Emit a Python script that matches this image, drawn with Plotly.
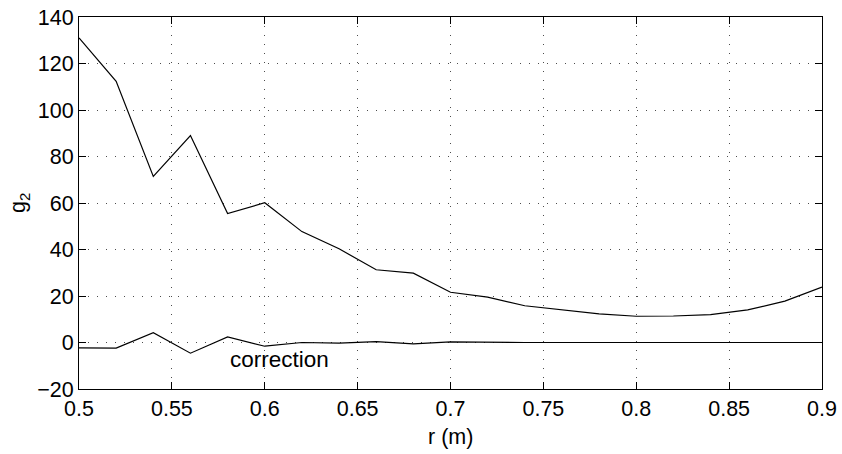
import plotly.graph_objects as go

r = [0.50, 0.52, 0.54, 0.56, 0.58, 0.60, 0.62, 0.64, 0.66, 0.68, 0.70,
     0.72, 0.74, 0.76, 0.78, 0.80, 0.82, 0.84, 0.86, 0.88, 0.90]
g2 = [131.0, 112.3, 71.4, 89.0, 55.5, 60.1, 47.7, 40.3, 31.3, 29.8, 21.6,
      19.5, 15.8, 13.9, 12.3, 11.3, 11.4, 12.0, 14.0, 17.8, 23.8]
correction = [-2.3, -2.4, 4.2, -4.6, 2.4, -1.6, 0.0, -0.3, 0.4, -0.6, 0.3,
              0.0, 0.0, 0.0, 0.0, 0.0, 0.0, 0.0, 0.0, 0.0, 0.0]
x_ticks = [0.5, 0.55, 0.6, 0.65, 0.7, 0.75, 0.8, 0.85, 0.9]
y_ticks = [-20, 0, 20, 40, 60, 80, 100, 120, 140]
label_text = "correction"
label_x, label_y = 0.58, -7.3

family = "Liberation Sans, Arial, Helvetica, sans-serif"
font = dict(family=family, size=21.5, color="black")
label_font = dict(family=family, size=22.5, color="black")

fig = go.Figure()
fig.add_trace(go.Scatter(x=r, y=g2, mode="lines",
                         line=dict(color="black", width=1.2), showlegend=False))
fig.add_trace(go.Scatter(x=r, y=correction, mode="lines",
                         line=dict(color="black", width=1.2), showlegend=False))
fig.add_annotation(x=label_x, y=label_y, text=label_text, showarrow=False,
                   xanchor="left", yanchor="middle", font=label_font)
fig.add_annotation(x=0.5, y=0, xref="paper", yref="paper", text="r (m)",
                   showarrow=False, xanchor="center", yanchor="middle",
                   yshift=-48, font=font)
fig.add_annotation(x=0, y=0.5, xref="paper", yref="paper", text="g<sub>2</sub>",
                   showarrow=False, xanchor="center", yanchor="middle",
                   xshift=-60, textangle=-90, font=font)

axis_common = dict(showline=True, linecolor="black", linewidth=1, mirror="ticks",
                   ticks="inside", ticklen=7, tickcolor="black", tickwidth=1,
                   showgrid=True, gridcolor="rgba(0,0,0,0.7)", gridwidth=1,
                   griddash="1px,8px", zeroline=False, tickfont=font,
                   automargin=False, ticklabeloverflow="allow")

fig.update_layout(
    width=842, height=454,
    margin=dict(l=79, r=20, t=17, b=65),
    paper_bgcolor="white", plot_bgcolor="white",
    font=font,
    hovermode=False,
    xaxis=dict(range=[0.5, 0.9], tickvals=x_ticks,
               ticktext=[f"{v:g}" for v in x_ticks], **axis_common),
    yaxis=dict(range=[-20, 140], tickvals=y_ticks,
               ticktext=[("\u2212" + str(-v)) if v < 0 else str(v) for v in y_ticks],
               **axis_common),
)

# remove the default 8px page margin so the figure fills the window exactly
fig.write_html("out.html",
               config={"displayModeBar": False, "staticPlot": True},
               post_script="document.body.style.margin='0px';document.body.style.overflow='hidden';")
